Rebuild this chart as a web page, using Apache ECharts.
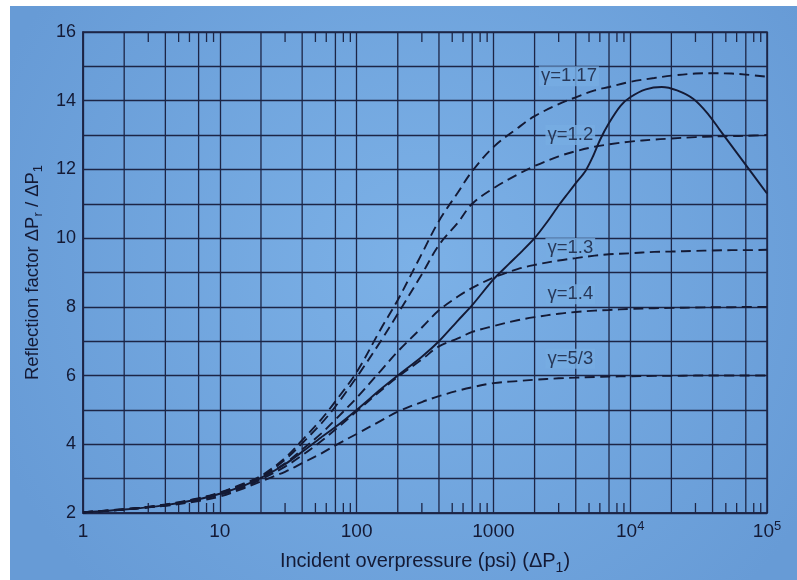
<!DOCTYPE html>
<html>
<head>
<meta charset="utf-8">
<script src="https://cdn.jsdelivr.net/npm/echarts@6/dist/echarts.min.js"></script>
<style>
  html, body { margin: 0; padding: 0; background: #ffffff; }
  #chart { position: absolute; left: 10px; top: 6px; width: 787px; height: 574px; }
</style>
</head>
<body>
<div id="chart"></div>
<script>
// Incident overpressure (psi) sampled for the ideal-gas curves
const pressure = [1, 2, 4, 7, 10, 15, 20, 30, 40, 55, 70, 100, 150, 200, 300, 400, 550, 700,
  1000, 1500, 2000, 3000, 4000, 5500, 7000, 10000, 15000, 20000, 30000, 40000, 55000, 70000, 100000];

// Reflection factor for each ratio of specific heats
const gamma117 = [2.02, 2.1, 2.25, 2.43, 2.6, 2.86, 3.08, 3.6, 4.12, 4.72, 5.25, 6.1, 7.35, 8.2, 9.55, 10.5, 11.33, 11.95,
  12.65, 13.2, 13.55, 13.9, 14.1, 14.3, 14.4, 14.55, 14.66, 14.73, 14.79, 14.8, 14.79, 14.76, 14.7];
const gamma12 = [2.02, 2.1, 2.24, 2.42, 2.58, 2.84, 3.05, 3.55, 4.03, 4.6, 5.1, 5.95, 7.0, 7.8, 8.95, 9.8, 10.45, 11.0,
  11.45, 11.85, 12.1, 12.38, 12.53, 12.66, 12.73, 12.81, 12.87, 12.9, 12.94, 12.96, 12.97, 12.98, 13.0];
const gamma13 = [2.02, 2.1, 2.23, 2.41, 2.57, 2.81, 3.03, 3.45, 3.85, 4.31, 4.72, 5.35, 6.14, 6.7, 7.4, 7.9, 8.3, 8.55,
  8.85, 9.1, 9.22, 9.35, 9.42, 9.49, 9.53, 9.56, 9.6, 9.61, 9.63, 9.64, 9.65, 9.65, 9.66];
const gamma14 = [2.02, 2.11, 2.22, 2.38, 2.53, 2.76, 2.98, 3.35, 3.68, 4.09, 4.43, 4.96, 5.56, 5.96, 6.47, 6.85, 7.08, 7.27,
  7.44, 7.61, 7.7, 7.8, 7.85, 7.89, 7.91, 7.94, 7.96, 7.97, 7.98, 7.99, 7.99, 8.0, 8.0];
const gamma53 = [2.02, 2.11, 2.21, 2.35, 2.48, 2.72, 2.92, 3.2, 3.45, 3.73, 3.97, 4.3, 4.68, 4.95, 5.23, 5.4, 5.56, 5.66,
  5.78, 5.84, 5.88, 5.92, 5.94, 5.96, 5.97, 5.98, 5.99, 5.99, 6.0, 6.0, 6.0, 6.0, 6.0];

// Real-air curve (solid)
const realAirPressure = [1, 2, 4, 7, 10, 15, 20, 30, 40, 55, 70, 100, 150, 200, 300, 400, 550, 700, 1000, 1300, 1600,
  2000, 2500, 3000, 3500, 4000, 4700, 5300, 6000, 7000, 8500, 10000, 13000, 17000, 22000, 29000, 37000, 45000,
  60000, 80000, 100000];
const realAir = [2.02, 2.1, 2.23, 2.4, 2.56, 2.8, 3.02, 3.42, 3.78, 4.2, 4.5, 5.0, 5.6, 6.0, 6.55, 7.0, 7.6, 8.05, 8.8,
  9.25, 9.6, 10.0, 10.5, 10.95, 11.3, 11.6, 11.95, 12.35, 12.85, 13.35, 13.85, 14.1, 14.33, 14.4, 14.3, 14.05, 13.62,
  13.16, 12.49, 11.82, 11.3];

// Curve labels and where they sit
const gammaLabels = ['γ=1.17', 'γ=1.2', 'γ=1.3', 'γ=1.4', 'γ=5/3'];
const gammaLabelX = [2150, 2400, 2400, 2400, 2400];
const gammaLabelY = [14.71, 13.0, 9.71, 8.37, 6.49];

// Log-paper rulings: intermediate grid lines and short minor ticks
const gridPressures = [2, 4, 7, 20, 40, 70, 200, 400, 700, 2000, 4000, 7000, 20000, 40000, 70000];
const minorTickPressures = [3, 5, 6, 8, 9, 30, 50, 60, 80, 90, 300, 500, 600, 800, 900,
  3000, 5000, 6000, 8000, 9000, 30000, 50000, 60000, 80000, 90000];

// Tick labels
const xTickLabels = ['1', '10', '100', '1000', '10{sup|4}', '10{sup|5}'];
const yTickValues = [2, 4, 6, 8, 10, 12, 14, 16];

const Y_MIN = 2, Y_MAX = 16;
const INK = '#141a35';
const GRID_INK = '#1c2546';
const FONT = '"Liberation Sans", Arial, Helvetica, sans-serif';

const pairs = (xs, ys) => xs.map((x, i) => [x, ys[i]]);

const chart = echarts.init(document.getElementById('chart'), null, { renderer: 'canvas' });

const dashed = (name, values) => ({
  name, type: 'line', data: pairs(pressure, values), smooth: 0.35, symbol: 'none', z: 5,
  lineStyle: { color: INK, width: 1.9, type: [10, 5.5] }
});

chart.setOption({
  animation: false,
  backgroundColor: {
    type: 'radial', x: 0.52, y: 0.45, r: 0.8,
    colorStops: [{ offset: 0, color: '#7cb1e7' }, { offset: 1, color: '#679bd6' }]
  },
  grid: { left: 73, right: 30, top: 26, bottom: 67, show: true, borderColor: GRID_INK, borderWidth: 1.5,
    backgroundColor: 'transparent' },
  xAxis: {
    type: 'log', logBase: 10, min: 1, max: 100000,
    name: 'Incident overpressure (psi) (ΔP{sub|1})', nameLocation: 'middle', nameGap: 25,
    nameTextStyle: { color: INK, fontFamily: FONT, fontSize: 20, lineHeight: 26,
      rich: { sub: { fontSize: 14, lineHeight: 14, verticalAlign: 'bottom', fontFamily: FONT, color: INK } } },
    axisLine: { show: true, lineStyle: { color: GRID_INK, width: 1.5 } },
    axisTick: { show: false },
    splitLine: { show: true, lineStyle: { color: GRID_INK, width: 1.3 } },
    axisLabel: {
      color: INK, fontFamily: FONT, fontSize: 19, margin: 7, lineHeight: 24,
      formatter: v => xTickLabels[Math.round(Math.log10(v))],
      rich: { sup: { fontSize: 13, lineHeight: 13, verticalAlign: 'top', fontFamily: FONT, color: INK } }
    }
  },
  yAxis: {
    type: 'value', min: Y_MIN, max: Y_MAX, interval: 1,
    name: 'Reflection factor ΔP{sub|r} / ΔP{sub|1}', nameLocation: 'middle', nameGap: 38,
    nameTextStyle: { color: INK, fontFamily: FONT, fontSize: 18.5, lineHeight: 24,
      rich: { sub: { fontSize: 13, lineHeight: 13, verticalAlign: 'bottom', fontFamily: FONT, color: INK } } },
    axisLine: { show: true, lineStyle: { color: GRID_INK, width: 1.5 } },
    axisTick: { show: false },
    splitLine: { show: true, lineStyle: { color: GRID_INK, width: 1.3 } },
    axisLabel: {
      color: INK, fontFamily: FONT, fontSize: 18, margin: 7,
      formatter: v => (yTickValues.indexOf(v) >= 0 ? String(v) : '')
    }
  },
  series: [
    {
      name: 'grid lines', type: 'custom', silent: true, z: 1,
      data: gridPressures.map(p => [p, Y_MIN]),
      renderItem: (params, api) => {
        const a = api.coord([api.value(0), Y_MIN]);
        const b = api.coord([api.value(0), Y_MAX]);
        return { type: 'line', shape: { x1: a[0], y1: a[1], x2: b[0], y2: b[1] },
          style: { stroke: GRID_INK, lineWidth: 1.3 } };
      }
    },
    {
      name: 'minor ticks', type: 'custom', silent: true, z: 1,
      data: minorTickPressures.map(p => [p, Y_MIN]),
      renderItem: (params, api) => {
        const a = api.coord([api.value(0), Y_MIN]);
        const b = api.coord([api.value(0), Y_MAX]);
        const len = 10;
        return { type: 'group', children: [
          { type: 'line', shape: { x1: a[0], y1: a[1], x2: a[0], y2: a[1] - len }, style: { stroke: GRID_INK, lineWidth: 1.3 } },
          { type: 'line', shape: { x1: b[0], y1: b[1], x2: b[0], y2: b[1] + len }, style: { stroke: GRID_INK, lineWidth: 1.3 } }
        ] };
      }
    },
    {
      name: 'labels', type: 'scatter', silent: true, z: 3, symbolSize: 0,
      data: pairs(gammaLabelX, gammaLabelY),
      label: {
        show: true, position: 'right', distance: 0,
        formatter: p => gammaLabels[p.dataIndex],
        color: INK, fontFamily: FONT, fontSize: 18.5,
        backgroundColor: '#77ace2', padding: [1, 2, 0, 2]
      }
    },
    dashed('γ=1.17', gamma117),
    dashed('γ=1.2', gamma12),
    dashed('γ=1.3', gamma13),
    dashed('γ=1.4', gamma14),
    dashed('γ=5/3', gamma53),
    {
      name: 'real air', type: 'line', data: pairs(realAirPressure, realAir), smooth: 0.25, symbol: 'none', z: 6,
      lineStyle: { color: INK, width: 1.9 }
    }
  ]
});
</script>
</body>
</html>
